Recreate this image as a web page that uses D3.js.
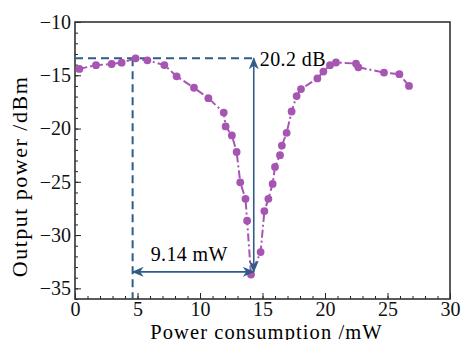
<!DOCTYPE html>
<html>
<head>
<meta charset="utf-8">
<script src="https://cdn.jsdelivr.net/npm/d3@7"></script>
<style>
    body { margin: 0; background: #fff; }
</style>
</head>
<body>
<div id="chart"></div>
<script>
// measured series (power consumption in mW, output power in dBm)
const powerMw = [
    0.35, 1.68, 2.93, 3.73, 4.85, 5.79, 7.15, 8.13, 9.52, 10.67,
    11.9, 12.05, 12.55, 12.93, 13.22, 13.64, 13.77, 14.08,
    14.85, 15.15, 15.47, 15.81, 16.0, 16.4, 16.55, 16.93, 17.33, 17.73,
    18.08, 19.39, 19.87, 20.4, 20.88, 22.48, 22.67, 24.72, 25.95, 26.72,
]
const outputDbm = [
    -14.4, -14.05, -13.94, -13.82, -13.41, -13.6, -14.04, -15.1, -16.17, -17.15,
    -18.5, -19.8, -20.65, -22.2, -25.05, -26.6, -28.65, -33.7,
    -31.6, -27.75, -26.6, -25.2, -23.6, -22.5, -21.6, -20.4, -18.4, -16.95,
    -16.3, -15.3, -14.65, -14.05, -13.8, -13.9, -14.25, -14.75, -14.9, -16.0,
]

// annotation values
const peakDbm = -13.41
const dipDbm = -33.45
const leftMw = 4.61
const rightMw = 14.3
const dbLabel = "20.2 dB"
const mwLabel = "9.14 mW"

const xTicks = [0, 5, 10, 15, 20, 25, 30]
const yTicks = [-35, -30, -25, -20, -15, -10]

const width = 464
const height = 340
const margin = {top: 22, right: 14, bottom: 41, left: 75}
const serif = "'Liberation Serif', 'Times New Roman', 'DejaVu Serif', serif"

const svg = d3.select("#chart")
    .append("svg")
    .attr("width", width)
    .attr("height", height)

const x = d3.scaleLinear().domain([0, 30]).range([margin.left, width - margin.right])
const y = d3.scaleLinear().domain([-36, -10]).range([height - margin.bottom, margin.top])

const blue = "#2f5d88"
const purple = "#a655b2"

// arrowhead
svg.append("defs")
    .append("marker")
    .attr("id", "arrowhead")
    .attr("viewBox", [0, 0, 12, 10])
    .attr("refX", 11)
    .attr("refY", 5)
    .attr("markerWidth", 12)
    .attr("markerHeight", 10)
    .attr("markerUnits", "userSpaceOnUse")
    .attr("orient", "auto-start-reverse")
    .append("path")
    .attr("d", "M0,0 L12,5 L0,10 L3.5,5 Z")
    .attr("fill", blue)

// axes with inward ticks
const xAxis = svg.append("g")
    .attr("transform", `translate(0,${y(-36)})`)
xAxis.call(d3.axisBottom(x).ticks(30).tickSize(-3).tickFormat(""))
xAxis.append("g").call(d3.axisBottom(x).tickValues(xTicks).tickSize(-6).tickPadding(3).tickFormat(d3.format("d")))
xAxis.selectAll(".domain").remove()
xAxis.selectAll("line").attr("stroke", "#222").attr("stroke-width", 1)
xAxis.selectAll("text").attr("font-size", 20).attr("font-family", serif).attr("fill", "#111")

const yAxis = svg.append("g")
    .attr("transform", `translate(${x(0)},0)`)
yAxis.call(d3.axisLeft(y).ticks(26).tickSize(-3).tickFormat(""))
yAxis.append("g").call(d3.axisLeft(y).tickValues(yTicks).tickSize(-6).tickPadding(4).tickFormat((d) => String(d).replace("-", "\u2212")))
yAxis.selectAll(".domain").remove()
yAxis.selectAll("line").attr("stroke", "#222").attr("stroke-width", 1)
yAxis.selectAll("text").attr("font-size", 20).attr("font-family", serif).attr("fill", "#111")

// frame
svg.append("rect")
    .attr("x", x(0))
    .attr("y", y(-10))
    .attr("width", x(30) - x(0))
    .attr("height", y(-36) - y(-10))
    .attr("fill", "none")
    .attr("stroke", "#333")
    .attr("stroke-width", 1.6)

// dashed guide lines
svg.append("line")
    .attr("x1", x(0)).attr("x2", x(rightMw))
    .attr("y1", y(peakDbm)).attr("y2", y(peakDbm))
    .attr("stroke", blue).attr("stroke-width", 2)
    .attr("stroke-dasharray", "8,5")
svg.append("line")
    .attr("x1", x(leftMw)).attr("x2", x(leftMw))
    .attr("y1", y(peakDbm)).attr("y2", y(-36))
    .attr("stroke", blue).attr("stroke-width", 2)
    .attr("stroke-dasharray", "8,5")

// data line and markers
const line = d3.line()
    .x((d, i) => x(powerMw[i]))
    .y((d) => y(d))
svg.append("path")
    .datum(outputDbm)
    .attr("d", line)
    .attr("fill", "none")
    .attr("stroke", purple)
    .attr("stroke-width", 2)
    .attr("stroke-dasharray", "8,3,2,3")

svg.append("g")
    .selectAll("circle")
    .data(outputDbm)
    .join("circle")
    .attr("cx", (d, i) => x(powerMw[i]))
    .attr("cy", (d) => y(d))
    .attr("r", 3.9)
    .attr("fill", purple)

// arrows
svg.append("line")
    .attr("x1", x(rightMw)).attr("x2", x(rightMw))
    .attr("y1", y(dipDbm)).attr("y2", y(peakDbm))
    .attr("stroke", blue).attr("stroke-width", 1.6)
    .attr("marker-start", "url(#arrowhead)")
    .attr("marker-end", "url(#arrowhead)")
svg.append("line")
    .attr("x1", x(leftMw)).attr("x2", x(rightMw))
    .attr("y1", y(dipDbm)).attr("y2", y(dipDbm))
    .attr("stroke", blue).attr("stroke-width", 1.6)
    .attr("marker-start", "url(#arrowhead)")
    .attr("marker-end", "url(#arrowhead)")

svg.append("text")
    .attr("x", x(rightMw) + 6)
    .attr("y", y(peakDbm) + 8)
    .attr("font-family", serif)
    .attr("font-size", 20)
    .attr("letter-spacing", 0.4)
    .text(dbLabel)
svg.append("text")
    .attr("x", x(leftMw) + 18)
    .attr("y", y(dipDbm) - 11)
    .attr("font-family", serif)
    .attr("font-size", 20)
    .attr("letter-spacing", 0.4)
    .text(mwLabel)

// axis titles
svg.append("text")
    .attr("x", (x(0) + x(30)) / 2 + 4)
    .attr("y", 339)
    .attr("text-anchor", "middle")
    .attr("font-family", serif)
    .attr("font-size", 20.5)
    .attr("letter-spacing", 1.1)
    .text("Power consumption /mW")
svg.append("text")
    .attr("transform", `translate(27,${(y(-36) + y(-10)) / 2 + 16}) rotate(-90)`)
    .attr("text-anchor", "middle")
    .attr("font-family", serif)
    .attr("font-size", 22)
    .attr("letter-spacing", 1.5)
    .text("Output power /dBm")
</script>
</body>
</html>
